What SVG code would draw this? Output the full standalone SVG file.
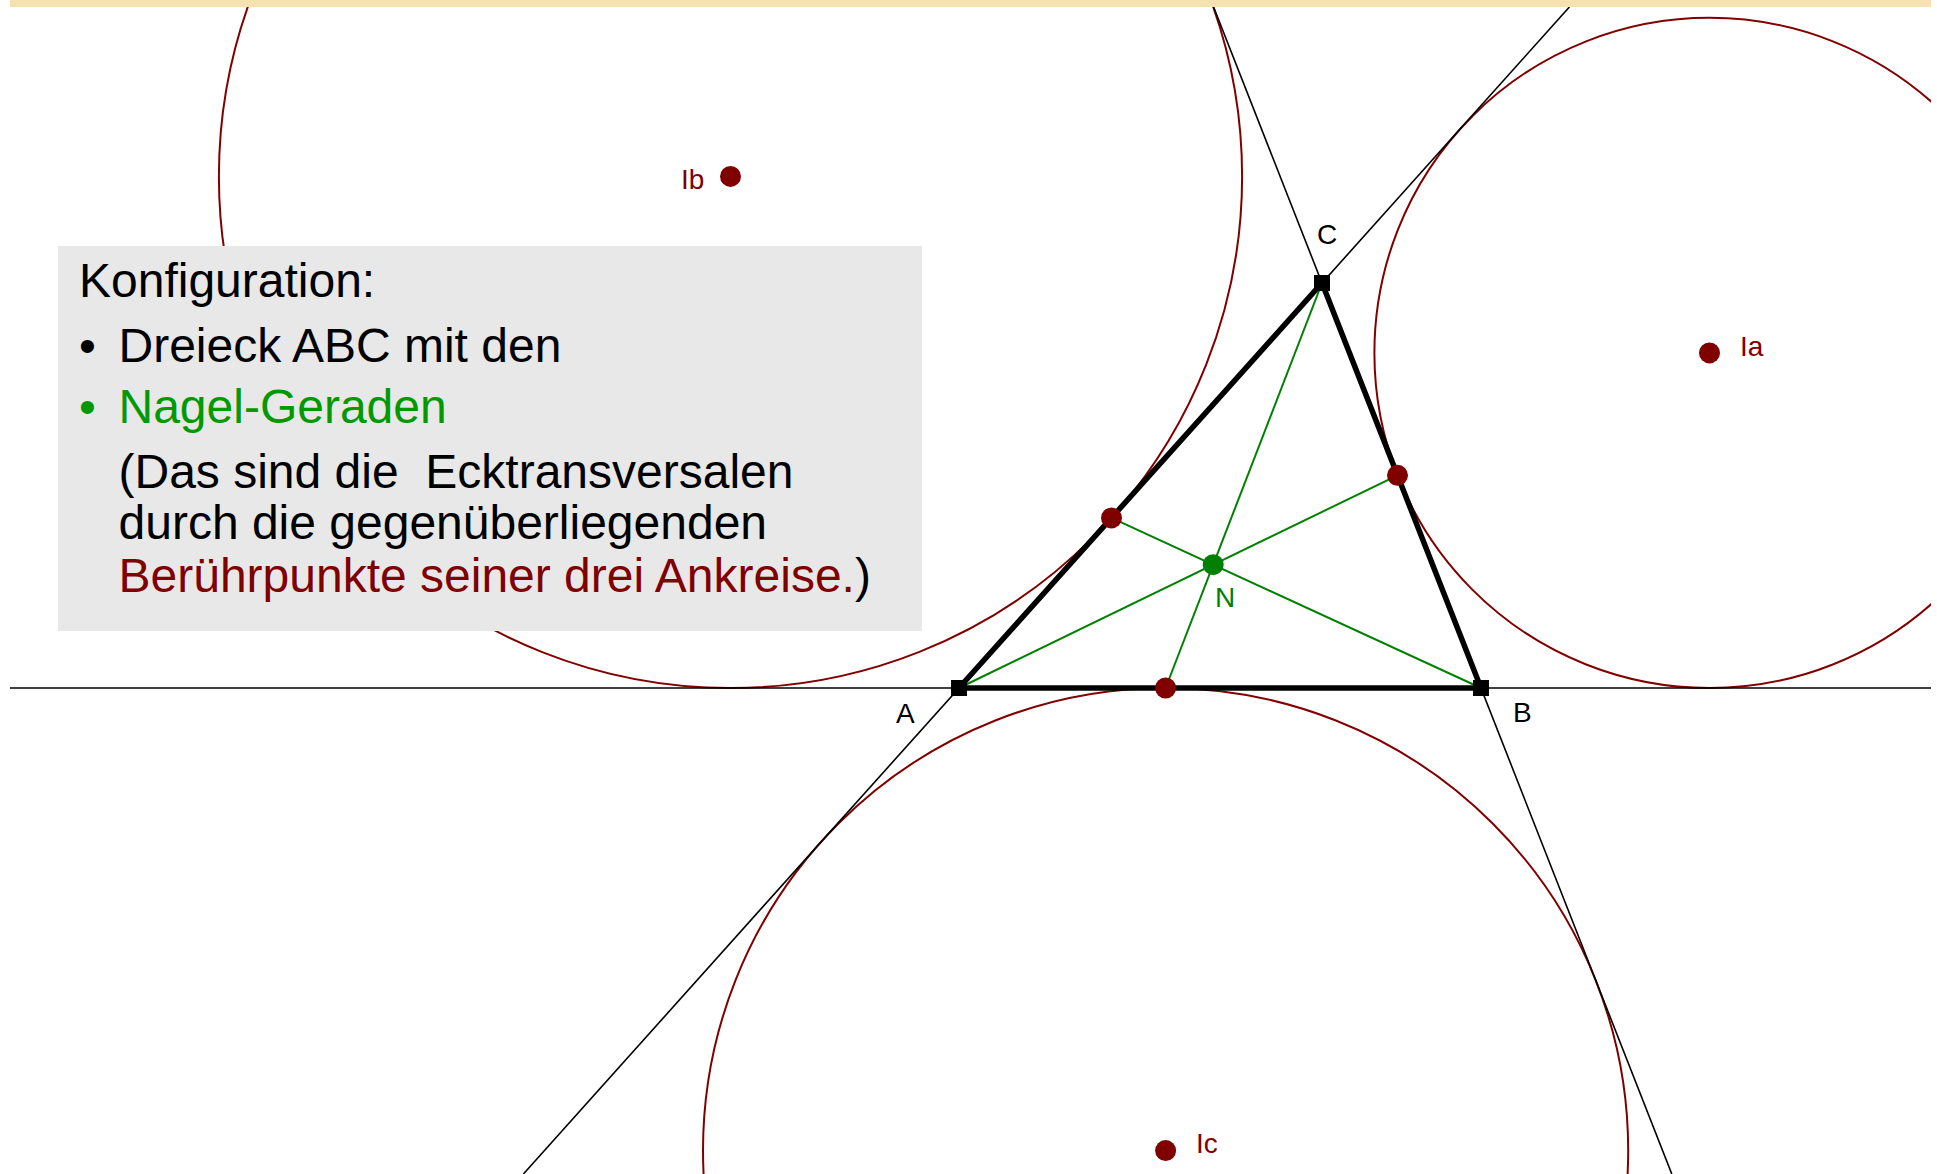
<svg xmlns="http://www.w3.org/2000/svg" width="1937" height="1174" viewBox="0 0 1937 1174">
<style>
.thin{stroke:#000;stroke-width:1.6;fill:none}
.side{stroke:#000;stroke-width:5.5;fill:none;stroke-linecap:butt}
.nag{stroke:#008000;stroke-width:2;fill:none}
.ex{stroke:#800000;stroke-width:2;fill:none}
.rp{fill:#800000}
.vx{fill:#000}
.lbl{font-family:"Liberation Sans",Arial,sans-serif;font-size:28px}
.box{font-family:"Liberation Sans",Arial,sans-serif;font-size:48px;white-space:pre}
</style>
<defs>
<clipPath id="area"><rect x="10" y="7" width="1921" height="1167"/></clipPath>
</defs>
<rect x="0" y="0" width="1937" height="1174" fill="#fff"/>
<g clip-path="url(#area)">
<g id="circles">
<circle id="circle-Ib" class="ex" cx="730.5" cy="176.4" r="511.6"/>
<circle id="circle-Ia" class="ex" cx="1709.5" cy="352.9" r="335.1"/>
<circle id="circle-Ic" class="ex" cx="1165.6" cy="1150.6" r="462.6"/>
</g>
<g id="connectors">
<line class="thin" x1="10" y1="688" x2="1931" y2="688"/>
<line class="thin" x1="523.4" y1="1174" x2="1569.4" y2="7"/>
<line class="thin" x1="1213.6" y1="7" x2="1671.8" y2="1174"/>
<line class="nag" x1="959" y1="688" x2="1397.5" y2="475.3"/>
<line class="nag" x1="1481" y1="688" x2="1111.5" y2="517.9"/>
<line class="nag" x1="1322" y1="283" x2="1165.6" y2="688"/>
<polygon class="side" points="959,688 1481,688 1322,283"/>
</g>
</g>
<g id="textbox">
<rect x="58" y="246" width="864" height="385" fill="#e8e8e8"/>
<text class="box" x="79" y="297" fill="#000">Konfiguration:</text>
<text class="box" x="79" y="362" fill="#000">•</text>
<text class="box" x="118.5" y="362" fill="#000">Dreieck ABC mit den</text>
<text class="box" x="79" y="423" fill="#009900">•</text>
<text class="box" x="118.5" y="423" fill="#009900">Nagel-Geraden</text>
<text class="box" x="118.5" y="488" fill="#000">(Das sind die  Ecktransversalen</text>
<text class="box" x="118.5" y="539" fill="#000">durch die gegenüberliegenden</text>
<text class="box" x="118.5" y="592" fill="#000"><tspan fill="#800000">Berührpunkte seiner drei Ankreise.</tspan>)</text>
</g>
<g id="node-A"><rect class="vx" x="951" y="680" width="16" height="16"/><text class="lbl" x="896" y="723">A</text></g>
<g id="node-B"><rect class="vx" x="1473" y="680" width="16" height="16"/><text class="lbl" x="1513" y="722">B</text></g>
<g id="node-C"><rect class="vx" x="1314" y="275" width="16" height="16"/><text class="lbl" x="1317" y="244">C</text></g>
<g id="node-N"><circle cx="1213.2" cy="564.7" r="10.5" fill="#008000"/><text class="lbl" x="1215" y="607" fill="#008000">N</text></g>
<g id="node-Ib"><circle class="rp" cx="730.5" cy="176.4" r="10.5"/><text class="lbl" x="681" y="189" fill="#800000">Ib</text></g>
<g id="node-Ia"><circle class="rp" cx="1709.5" cy="352.9" r="10.5"/><text class="lbl" x="1740" y="356" fill="#800000">Ia</text></g>
<g id="node-Ic"><circle class="rp" cx="1165.6" cy="1150.6" r="10.5"/><text class="lbl" x="1196" y="1153" fill="#800000">Ic</text></g>
<g id="touch-points">
<circle class="rp" cx="1397.5" cy="475.3" r="10.5"/>
<circle class="rp" cx="1111.5" cy="517.9" r="10.5"/>
<circle class="rp" cx="1165.6" cy="688" r="10.5"/>
</g>
<rect x="10" y="0" width="1921" height="7" fill="#f6e1b3"/>
</svg>
